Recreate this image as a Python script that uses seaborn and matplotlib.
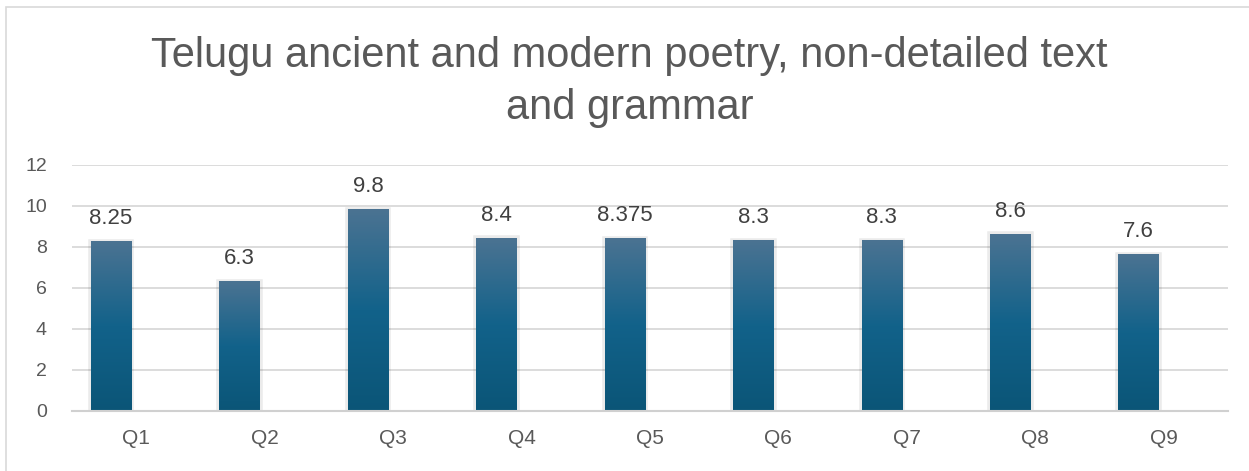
import numpy as np
import pandas as pd
import matplotlib.pyplot as plt
import seaborn as sns
from matplotlib.colors import LinearSegmentedColormap
from matplotlib.patches import Rectangle
import matplotlib.patheffects as pe

# chart data
questions = ["Q1", "Q2", "Q3", "Q4", "Q5", "Q6", "Q7", "Q8", "Q9"]
scores = [8.25, 6.3, 9.8, 8.4, 8.375, 8.3, 8.3, 8.6, 7.6]
score_labels = ["8.25", "6.3", "9.8", "8.4", "8.375", "8.3", "8.3", "8.6", "7.6"]
y_ticks = [0, 2, 4, 6, 8, 10, 12]
title_lines = ["Telugu ancient and modern poetry, non-detailed text", "and grammar"]

# second (empty) series keeps the clustered-bar offset of the original
df = pd.DataFrame({
    "question": questions * 2,
    "value": scores + [0] * len(questions),
    "series": ["Score"] * len(questions) + ["blank"] * len(questions),
})

sns.set_theme(style="white")
plt.rcParams['font.family'] = ['Liberation Sans', 'DejaVu Sans']

fig = plt.figure(figsize=(12.49, 4.71), dpi=100)
ax = fig.add_axes([0.0576, 0.1274, 0.9256, 0.5233])

sns.barplot(data=df, x="question", y="value", hue="series", hue_order=["Score", "blank"],
            palette=["#15607f", "#ffffff"], width=0.78, gap=0.19, saturation=1,
            linewidth=0, legend=False, ax=ax)

# gradient fill for the real bars
cmap = LinearSegmentedColormap.from_list("bar", ["#0b5577", "#12628a", "#4b7392"])
grad = np.linspace(0, 1, 256).reshape(-1, 1)
for bar in ax.containers[0]:
    x, w, h = bar.get_x(), bar.get_width(), bar.get_height()
    bar.set_edgecolor("none")
    bar.set_path_effects([pe.Stroke(linewidth=4, foreground="#000000", alpha=0.08), pe.Normal()])
    ax.imshow(grad, extent=[x, x + w, 0, h], origin="lower", cmap=cmap,
              aspect="auto", zorder=bar.get_zorder() + 0.1)
for bar in ax.containers[1]:
    bar.set_alpha(0)

ax.bar_label(ax.containers[0], labels=score_labels, padding=9, fontsize=16, color="#404040")

ax.set_xlim(-0.5, len(questions) - 0.5)
ax.set_ylim(0, 12)
ax.set_yticks(y_ticks)
ax.grid(axis="y", color="#d9d9d9", linewidth=1.3)
ax.set_axisbelow(True)
ax.set_xlabel("")
ax.set_ylabel("")
for side in ["top", "right", "left"]:
    ax.spines[side].set_visible(False)
ax.spines["bottom"].set_color("#d0d0d0")
ax.spines["bottom"].set_linewidth(1.5)
ax.tick_params(axis="y", length=0, pad=18, labelsize=14, labelcolor="#595959")
ax.tick_params(axis="x", length=0, pad=13, labelsize=15, labelcolor="#595959")

fig.text(0.504, 0.8584, title_lines[0], ha="center", va="baseline", fontsize=30,
         color="#595959")
fig.text(0.504, 0.7470, title_lines[1], ha="center", va="baseline", fontsize=30,
         color="#595959")

fig.patches.append(Rectangle((0.005, -0.01), 1.0, 0.996, transform=fig.transFigure,
                             fill=False, edgecolor="#d9d9d9", linewidth=1.2))

fig.savefig("out.png", dpi=100)
